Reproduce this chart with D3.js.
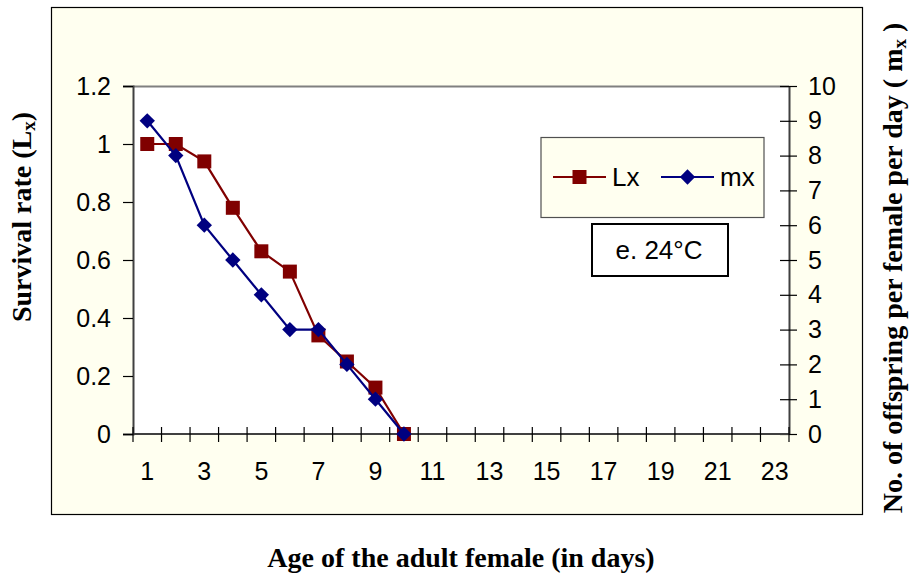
<!DOCTYPE html>
<html>
<head>
<meta charset="utf-8">
<script src="https://cdn.jsdelivr.net/npm/d3@7"></script>
<style>
  html, body { margin: 0; padding: 0; background: #ffffff; }
  svg { display: block; }
</style>
</head>
<body>
<svg id="chart" width="909" height="574"></svg>
<script>
// ---- data ----
const categories = [1,2,3,4,5,6,7,8,9,10,11,12,13,14,15,16,17,18,19,20,21,22,23];
const ageDays = [1,2,3,4,5,6,7,8,9,10];
const lxValues = [1.0, 1.0, 0.94, 0.78, 0.63, 0.56, 0.34, 0.25, 0.16, 0.0];
const mxValues = [9, 8, 6, 5, 4, 3, 3, 2, 1, 0];
const xTickLabels = [1,3,5,7,9,11,13,15,17,19,21,23];
const leftTicks = [0, 0.2, 0.4, 0.6, 0.8, 1.0, 1.2];
const rightTicks = [0,1,2,3,4,5,6,7,8,9,10];
const seriesNames = ["Lx", "mx"];
const noteText = "e. 24°C";

// ---- layout ----
const svg = d3.select("#chart");
const sans = "'Liberation Sans', Arial, sans-serif";
const serif = "'Liberation Serif', 'Times New Roman', serif";
const plot = {left: 133, top: 86, right: 789, bottom: 434};
const lxColor = "#800000", mxColor = "#000080";

// outer chart area
svg.append("rect").attr("x", 51.5).attr("y", 7.5).attr("width", 811).attr("height", 507)
  .attr("fill", "#FFFFF0").attr("stroke", "#000").attr("stroke-width", 1.2);

// plot area
svg.append("rect").attr("x", plot.left).attr("y", plot.top)
  .attr("width", plot.right - plot.left).attr("height", plot.bottom - plot.top)
  .attr("fill", "#ffffff");
svg.append("line").attr("x1", plot.left).attr("x2", plot.right)
  .attr("y1", plot.top + 0.5).attr("y2", plot.top + 0.5)
  .attr("stroke", "#808080").attr("stroke-width", 2);

// scales
const x = d3.scaleBand().domain(categories).range([plot.left, plot.right]).padding(0);
const yL = d3.scaleLinear().domain([0, 1.2]).range([plot.bottom, plot.top]);
const yR = d3.scaleLinear().domain([0, 10]).range([plot.bottom, plot.top]);
const cx = d => x(d) + x.bandwidth() / 2;

// left axis
const leftAxis = d3.axisLeft(yL).tickValues(leftTicks).tickSize(10).tickPadding(12)
  .tickFormat(d => d3.format("")(+d.toFixed(1)));
const gL = svg.append("g").attr("transform", `translate(${plot.left},0)`).call(leftAxis);
gL.select(".domain").attr("stroke", "#404040").attr("stroke-width", 2);
gL.selectAll(".tick line").attr("stroke", "#000").attr("stroke-width", 1.2);
gL.selectAll(".tick text").attr("font-family", sans).attr("font-size", 25).attr("fill", "#000");

// right axis (ticks crossing)
const rightAxis = d3.axisRight(yR).tickValues(rightTicks).tickSize(0).tickPadding(19);
const gR = svg.append("g").attr("transform", `translate(${plot.right},0)`).call(rightAxis);
gR.select(".domain").attr("stroke", "#404040").attr("stroke-width", 2);
gR.selectAll(".tick").append("line").attr("x1", -9).attr("x2", 8)
  .attr("stroke", "#000").attr("stroke-width", 1.2);
gR.selectAll(".tick text").attr("font-family", sans).attr("font-size", 25).attr("fill", "#000");

// bottom axis: ticks at category boundaries, crossing
const gX = svg.append("g").attr("transform", `translate(0,${plot.bottom})`);
gX.append("line").attr("x1", plot.left).attr("x2", plot.right).attr("y1", 0).attr("y2", 0)
  .attr("stroke", "#404040").attr("stroke-width", 2);
const boundaries = categories.map(c => x(c)).concat([x(categories[categories.length - 1]) + x.bandwidth()]);
gX.selectAll("line.tk").data(boundaries).enter().append("line").attr("class", "tk")
  .attr("x1", d => d).attr("x2", d => d).attr("y1", -7).attr("y2", 8)
  .attr("stroke", "#000").attr("stroke-width", 1.2);
gX.selectAll("text").data(xTickLabels).enter().append("text")
  .attr("x", d => cx(d)).attr("y", 46).attr("text-anchor", "middle")
  .attr("font-family", sans).attr("font-size", 25).attr("fill", "#000").text(d => d);

// series
const lxData = ageDays.map((d, i) => ({x: d, y: lxValues[i]}));
const mxData = ageDays.map((d, i) => ({x: d, y: mxValues[i]}));
const lineLx = d3.line().x(d => cx(d.x)).y(d => yL(d.y));
const lineMx = d3.line().x(d => cx(d.x)).y(d => yR(d.y));
const sq = d3.symbol().type(d3.symbolSquare).size(196);
const di = d3.symbol().type(d3.symbolDiamond2).size(150);

svg.append("path").datum(lxData).attr("d", lineLx).attr("fill", "none")
  .attr("stroke", lxColor).attr("stroke-width", 2.2);
svg.selectAll("path.lx").data(lxData).enter().append("path").attr("class", "lx")
  .attr("d", sq).attr("transform", d => `translate(${cx(d.x)},${yL(d.y)})`)
  .attr("fill", lxColor);

svg.append("path").datum(mxData).attr("d", lineMx).attr("fill", "none")
  .attr("stroke", mxColor).attr("stroke-width", 2.2);
svg.selectAll("path.mx").data(mxData).enter().append("path").attr("class", "mx")
  .attr("d", di).attr("transform", d => `translate(${cx(d.x)},${yR(d.y)})`)
  .attr("fill", mxColor);

// legend
const lg = svg.append("g");
lg.append("rect").attr("x", 541).attr("y", 137.5).attr("width", 223).attr("height", 80)
  .attr("fill", "#FFFFF0").attr("stroke", "#505050").attr("stroke-width", 1.2);
const ly = 177;
const legendItems = [
  {name: seriesNames[0], color: lxColor, sym: sq, x0: 553},
  {name: seriesNames[1], color: mxColor, sym: di, x0: 661}
];
legendItems.forEach(it => {
  lg.append("line").attr("x1", it.x0).attr("x2", it.x0 + 53).attr("y1", ly).attr("y2", ly)
    .attr("stroke", it.color).attr("stroke-width", 2.2);
  lg.append("path").attr("d", it.sym).attr("transform", `translate(${it.x0 + 26.5},${ly})`)
    .attr("fill", it.color);
  lg.append("text").attr("x", it.x0 + 59).attr("y", ly + 9).attr("font-family", sans)
    .attr("font-size", 26).attr("fill", "#000").text(it.name);
});

// note box
svg.append("rect").attr("x", 592).attr("y", 224).attr("width", 136).attr("height", 52)
  .attr("fill", "#ffffff").attr("stroke", "#000").attr("stroke-width", 2);
svg.append("text").attr("x", 659).attr("y", 259).attr("text-anchor", "middle")
  .attr("font-family", sans).attr("font-size", 26).attr("fill", "#000").text(noteText);

// axis titles
const leftTitle = svg.append("text")
  .attr("transform", "translate(31,217) rotate(-90)").attr("text-anchor", "middle")
  .attr("font-family", serif).attr("font-weight", "bold").attr("font-size", 28).attr("fill", "#000");
leftTitle.append("tspan").text("Survival rate (L");
leftTitle.append("tspan").attr("font-size", 19).attr("dy", 4).text("x");
leftTitle.append("tspan").attr("dy", -4).text(")");

const rightTitle = svg.append("text")
  .attr("transform", "translate(902,268) rotate(-90)").attr("text-anchor", "middle")
  .attr("font-family", serif).attr("font-weight", "bold").attr("font-size", 28).attr("fill", "#000");
rightTitle.append("tspan").text("No. of offspring per female per day ( m");
rightTitle.append("tspan").attr("font-size", 19).attr("dy", 4).text("x");
rightTitle.append("tspan").attr("dy", -4).text(" )");

svg.append("text").attr("x", 461).attr("y", 567).attr("text-anchor", "middle")
  .attr("font-family", serif).attr("font-weight", "bold").attr("font-size", 28).attr("fill", "#000")
  .text("Age of the adult female (in days)");
</script>
</body>
</html>
